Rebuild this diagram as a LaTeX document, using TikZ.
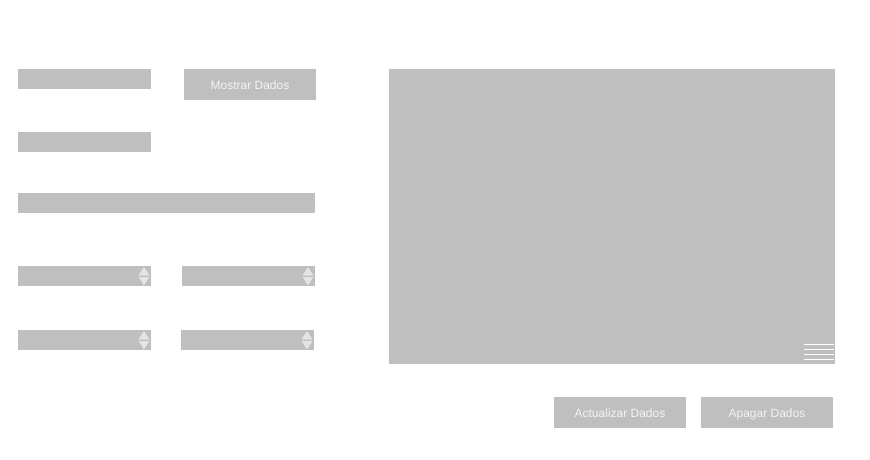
\documentclass[tikz,border=0pt]{standalone}
\usepackage{fontspec}
\setmainfont{Liberation Sans}
\definecolor{boxgray}{HTML}{BFBFBF}
\definecolor{textwhite}{HTML}{F4F4F4}
\definecolor{arrowgray}{HTML}{E4E4E4}
\tikzset{field/.style = {fill=boxgray, draw=none},
         buttontext/.style = {text=textwhite, anchor=base, inner sep=0pt, font=\fontsize{12}{14}\selectfont},
         spin/.style = {fill=arrowgray}}

\begin{document}
\begin{tikzpicture}[x=1pt, y=-1pt]
  	\useasboundingbox (0,0) rectangle (870,460);
  	% text fields
  	\fill[field] (18,69) rectangle (151,89);
  	\fill[field] (18,132) rectangle (151,152);
  	\fill[field] (18,193) rectangle (315,213);
  	% buttons
  	\fill[field] (184,69) rectangle (316,100);
  	\node[buttontext] (mostrar) at (250,89) {Mostrar Dados};
  	\fill[field] (554,397) rectangle (686,428);
  	\node[buttontext] (actualizar) at (620,417.3) {Actualizar Dados};
  	\fill[field] (701,397) rectangle (833,428);
  	\node[buttontext] (apagar) at (767,417.3) {Apagar Dados};
  	% spinners
  	\foreach \xa/\xb/\y in {18/151/266, 182/315/266, 18/151/330, 181/314/330}{
  	  \fill[field] (\xa,\y) rectangle (\xb,\y+20);
  	  \fill[spin] (\xb-12.5,\y+9.5) -- (\xb-7,\y+1) -- (\xb-1.5,\y+9.5) -- cycle;
  	  \fill[spin] (\xb-12.5,\y+11) -- (\xb-7,\y+19.5) -- (\xb-1.5,\y+11) -- cycle;
  	}
  	% table area
  	\fill[field] (389,69) rectangle (835,364);
  	\foreach \y in {344,349,354,359}
  	  \fill[white] (804,\y) rectangle (834,\y+1);
  \end{tikzpicture}
\end{document}
